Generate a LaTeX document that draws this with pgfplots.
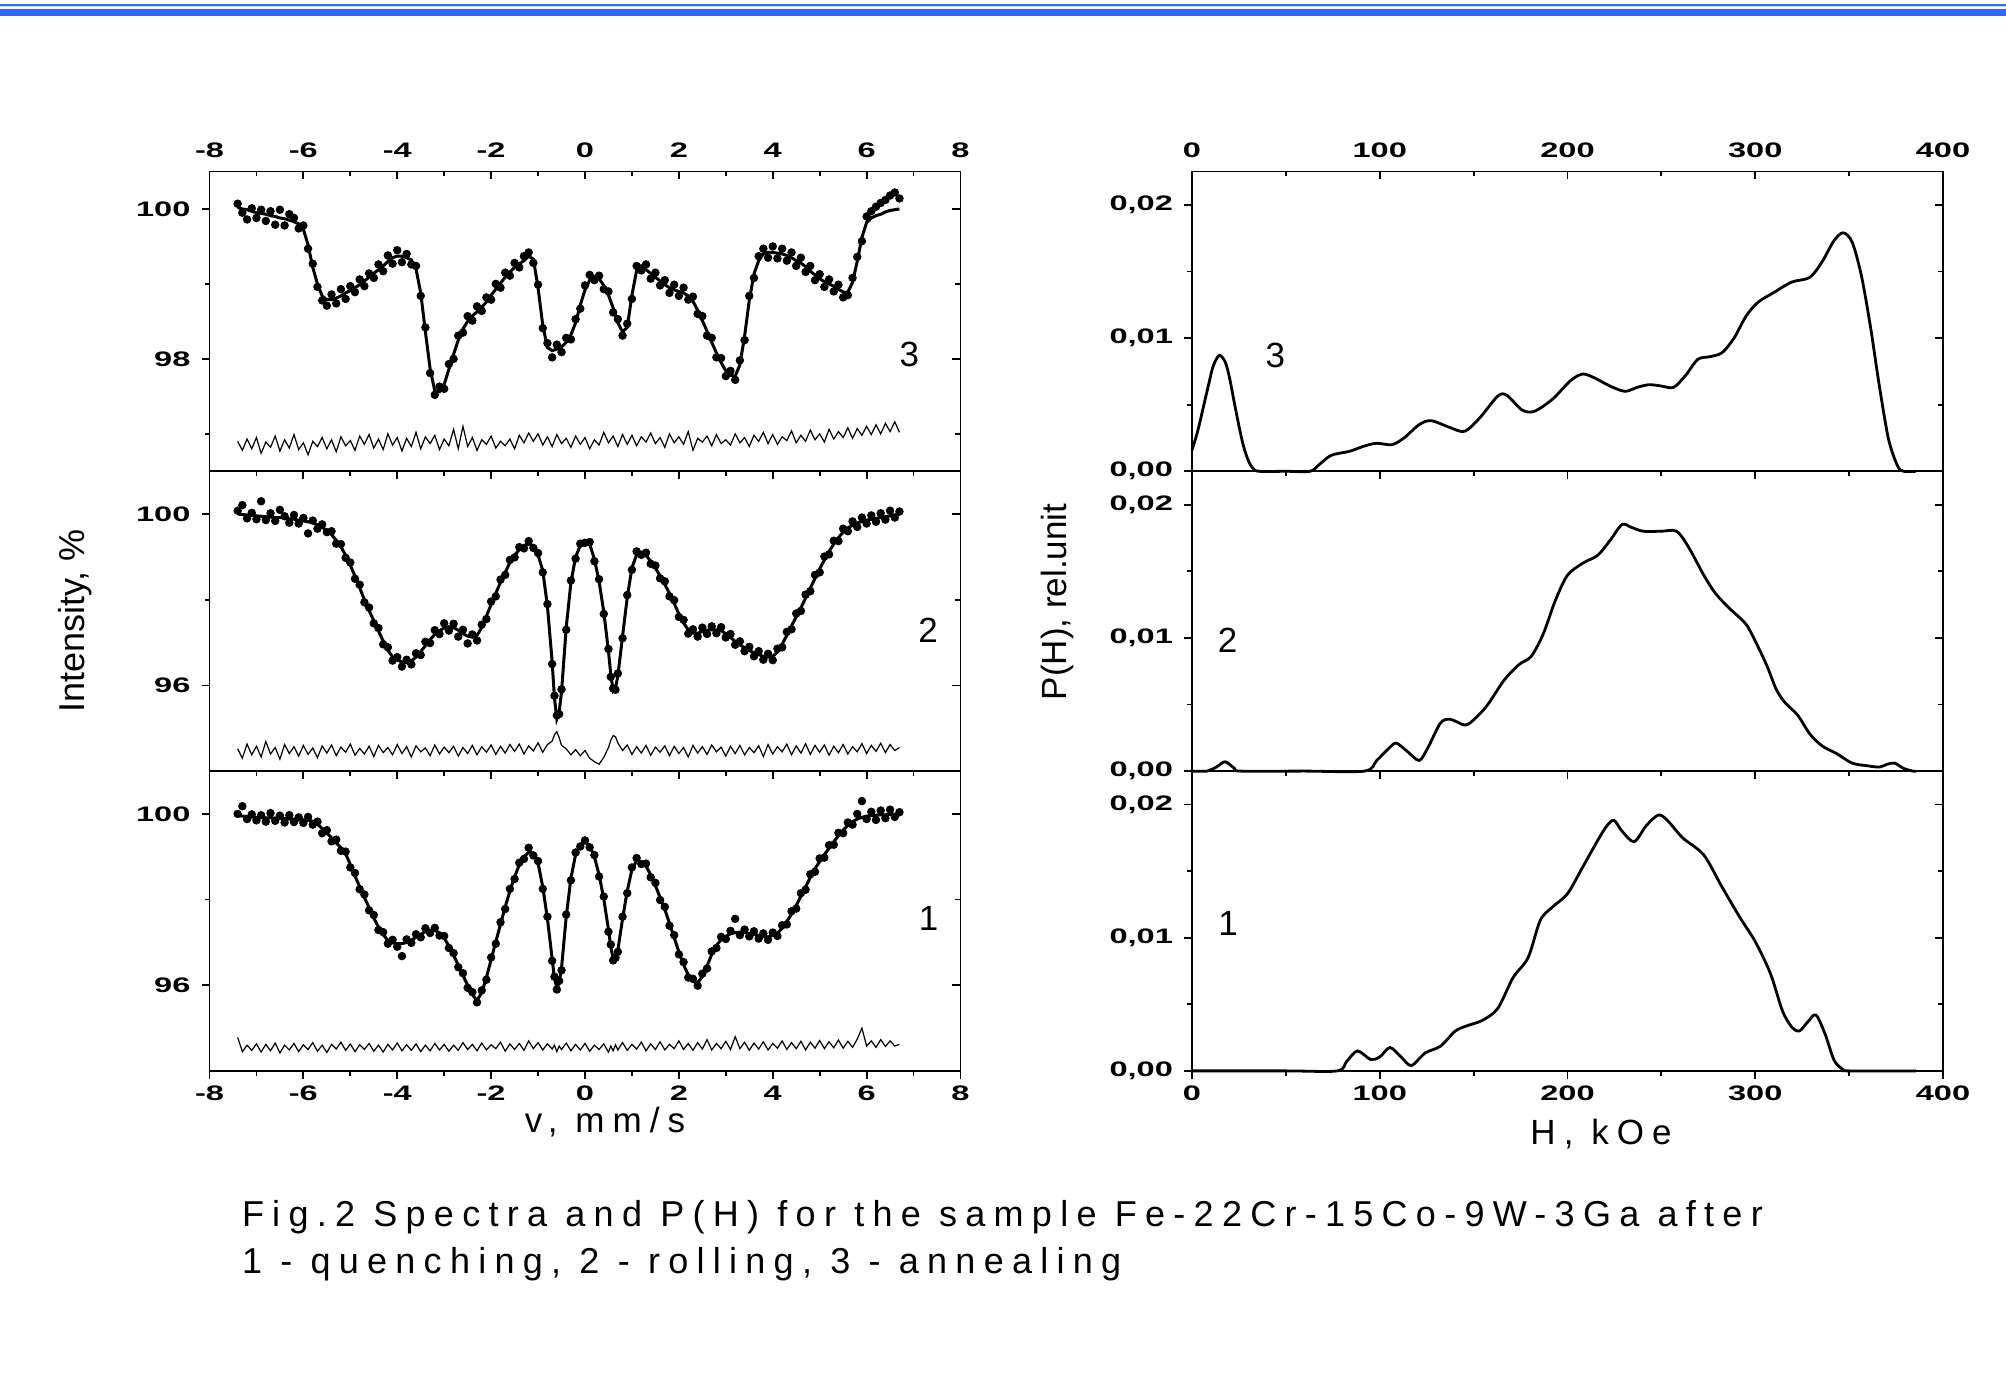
\documentclass[border=0pt]{standalone}
\usepackage{fontspec}
\setmainfont{Liberation Sans}
\newfontfamily\tickfont[FakeStretch=1.55]{Liberation Sans}
\newfontfamily\capfont[LetterSpace=23]{Liberation Sans}
\usepackage{pgfplots}
\usepackage{pgfplotstable}
\pgfplotsset{compat=1.18}
\definecolor{hdrblue}{RGB}{51,102,255}
\definecolor{hdrlight}{RGB}{200,215,255}

% panel 3 (annealing): x fit data residual
\pgfplotstableread{
x f d r
-7.4 100.02 100.07 96.90
-7.3 100.00 99.95 96.78
-7.2 99.99 99.86 96.93
-7.1 99.97 100.01 96.80
-7.0 99.95 99.88 96.95
-6.9 99.94 99.99 96.74
-6.8 99.93 99.84 96.89
-6.7 99.91 99.97 96.82
-6.6 99.90 99.79 96.97
-6.5 99.88 99.99 96.77
-6.4 99.87 99.78 96.92
-6.3 99.85 99.93 96.81
-6.2 99.83 99.88 96.99
-6.1 99.80 99.74 96.79
-6.0 99.73 99.78 96.88
-5.9 99.52 99.47 96.72
-5.8 99.22 99.27 96.90
-5.7 99.00 98.96 96.83
-5.6 98.84 98.78 96.95
-5.5 98.79 98.71 96.80
-5.4 98.79 98.86 96.92
-5.3 98.81 98.74 96.76
-5.2 98.84 98.93 96.96
-5.1 98.88 98.80 96.84
-5.0 98.91 98.97 96.91
-4.9 98.95 98.89 96.78
-4.8 98.99 99.06 96.97
-4.7 99.04 98.97 96.86
-4.6 99.09 99.14 96.99
-4.5 99.14 99.08 96.81
-4.4 99.19 99.26 96.93
-4.3 99.24 99.17 96.79
-4.2 99.30 99.38 97.00
-4.1 99.35 99.27 96.85
-4.0 99.37 99.45 96.95
-3.9 99.37 99.29 96.77
-3.8 99.35 99.40 96.94
-3.7 99.32 99.26 96.83
-3.6 99.20 99.24 97.02
-3.5 98.88 98.84 96.80
-3.4 98.36 98.42 96.96
-3.3 97.87 97.81 96.87
-3.2 97.57 97.52 96.98
-3.1 97.56 97.63 96.79
-3.0 97.66 97.60 96.93
-2.9 97.86 97.93 96.84
-2.8 98.06 98.00 97.06
-2.7 98.25 98.31 96.80
-2.6 98.40 98.35 97.10
-2.5 98.50 98.57 96.83
-2.4 98.57 98.51 96.95
-2.3 98.63 98.70 96.78
-2.2 98.69 98.64 96.92
-2.1 98.76 98.82 96.86
-2.0 98.85 98.79 96.97
-1.9 98.93 99.00 96.81
-1.8 99.01 98.95 96.90
-1.7 99.09 99.15 96.84
-1.6 99.16 99.11 96.93
-1.5 99.22 99.28 96.80
-1.4 99.27 99.22 96.98
-1.3 99.31 99.37 96.88
-1.2 99.37 99.42 97.01
-1.1 99.33 99.28 96.90
-1.0 98.95 98.99 97.00
-0.9 98.45 98.41 96.85
-0.8 98.15 98.21 96.96
-0.7 98.11 98.02 96.83
-0.6 98.13 98.19 96.99
-0.5 98.16 98.09 96.87
-0.4 98.22 98.28 96.94
-0.3 98.32 98.26 96.82
-0.2 98.48 98.53 96.97
-0.1 98.72 98.67 96.86
0.0 98.92 98.98 96.95
0.1 99.05 99.12 96.80
0.2 99.10 99.05 96.92
0.3 99.07 99.11 96.85
0.4 98.98 98.93 97.02
0.5 98.85 98.90 96.88
0.6 98.68 98.62 96.97
0.7 98.48 98.53 96.83
0.8 98.36 98.31 96.99
0.9 98.42 98.47 96.86
1.0 98.85 98.80 96.98
1.1 99.18 99.24 96.84
1.2 99.24 99.18 96.96
1.3 99.19 99.26 96.89
1.4 99.14 99.07 97.01
1.5 99.09 99.15 96.87
1.6 99.04 98.98 96.95
1.7 98.99 99.05 96.82
1.8 98.95 98.88 97.00
1.9 98.92 98.99 96.88
2.0 98.90 98.84 96.96
2.1 98.88 98.95 96.86
2.2 98.84 98.79 97.03
2.3 98.77 98.83 96.78
2.4 98.65 98.60 96.94
2.5 98.51 98.57 96.89
2.6 98.37 98.31 96.97
2.7 98.22 98.28 96.84
2.8 98.08 98.02 96.99
2.9 97.95 98.01 96.87
3.0 97.84 97.77 96.92
3.1 97.78 97.84 96.85
3.2 97.77 97.72 97.00
3.3 97.92 97.98 96.88
3.4 98.30 98.25 96.95
3.5 98.78 98.84 96.83
3.6 99.13 99.08 96.98
3.7 99.31 99.37 96.90
3.8 99.40 99.47 97.02
3.9 99.42 99.35 96.87
4.0 99.42 99.50 96.99
4.1 99.41 99.34 96.86
4.2 99.40 99.47 96.96
4.3 99.38 99.31 96.91
4.4 99.35 99.42 97.04
4.5 99.31 99.24 96.88
4.6 99.28 99.35 96.98
4.7 99.23 99.16 96.90
4.8 99.17 99.24 97.05
4.9 99.12 99.05 96.92
5.0 99.07 99.13 97.00
5.1 99.03 98.96 96.89
5.2 99.00 99.06 97.06
5.3 98.97 98.90 96.93
5.4 98.93 98.99 97.03
5.5 98.89 98.82 96.95
5.6 98.89 98.85 97.08
5.7 99.02 99.08 96.94
5.8 99.30 99.36 97.07
5.9 99.62 99.57 96.98
6.0 99.82 99.90 97.10
6.1 99.88 99.97 96.99
6.2 99.91 100.03 97.12
6.3 99.93 100.08 97.00
6.4 99.96 100.12 97.14
6.5 99.98 100.18 97.03
6.6 99.99 100.22 97.16
6.7 100.00 100.14 97.02
}\specC

% panel 2 (rolling)
\pgfplotstableread{
x f d r
-7.4 100.00 100.08 94.52
-7.3 99.99 100.21 94.30
-7.2 99.98 99.90 94.63
-7.1 99.97 100.03 94.38
-7.0 99.96 99.88 94.58
-6.9 99.95 100.30 94.33
-6.8 99.94 99.86 94.69
-6.7 99.93 100.02 94.40
-6.6 99.92 99.84 94.55
-6.5 99.92 100.10 94.28
-6.4 99.91 99.95 94.62
-6.3 99.89 99.80 94.41
-6.2 99.88 99.98 94.57
-6.1 99.86 99.78 94.35
-6.0 99.84 99.91 94.60
-5.9 99.82 99.55 94.39
-5.8 99.80 99.85 94.54
-5.7 99.75 99.66 94.31
-5.6 99.69 99.76 94.59
-5.5 99.62 99.58 94.42
-5.4 99.52 99.60 94.61
-5.3 99.39 99.31 94.36
-5.2 99.24 99.30 94.56
-5.1 99.04 98.98 94.44
-5.0 98.81 98.87 94.63
-4.9 98.55 98.49 94.37
-4.8 98.28 98.35 94.53
-4.7 98.00 97.94 94.40
-4.6 97.75 97.82 94.58
-4.5 97.51 97.45 94.34
-4.4 97.27 97.34 94.60
-4.3 97.04 96.96 94.43
-4.2 96.82 96.89 94.55
-4.1 96.67 96.58 94.38
-4.0 96.59 96.66 94.62
-3.9 96.55 96.44 94.41
-3.8 96.53 96.60 94.57
-3.7 96.57 96.49 94.33
-3.6 96.66 96.75 94.59
-3.5 96.79 96.71 94.45
-3.4 96.93 97.02 94.54
-3.3 97.07 96.99 94.36
-3.2 97.19 97.29 94.61
-3.1 97.28 97.20 94.40
-3.0 97.34 97.45 94.56
-2.9 97.37 97.28 94.43
-2.8 97.35 97.44 94.58
-2.7 97.29 97.14 94.35
-2.6 97.21 97.30 94.55
-2.5 97.15 96.98 94.41
-2.4 97.13 97.19 94.60
-2.3 97.17 97.05 94.38
-2.2 97.35 97.42 94.57
-2.1 97.62 97.55 94.44
-2.0 97.89 97.96 94.61
-1.9 98.15 98.08 94.39
-1.8 98.41 98.47 94.58
-1.7 98.64 98.58 94.42
-1.6 98.87 98.93 94.62
-1.5 99.04 98.99 94.46
-1.4 99.17 99.23 94.63
-1.3 99.27 99.20 94.40
-1.2 99.30 99.37 94.59
-1.1 99.26 99.21 94.47
-1.0 99.05 99.09 94.66
-0.9 98.68 98.64 94.44
-0.8 97.85 97.90 94.62
-0.7 96.55 96.50 94.70
-0.65 95.70 95.76 94.85
-0.6 95.22 95.30 94.92
-0.55 95.38 95.33 94.78
-0.5 95.85 95.91 94.60
-0.4 97.35 97.30 94.52
-0.3 98.40 98.45 94.38
-0.2 99.00 98.96 94.50
-0.1 99.27 99.31 94.36
0.0 99.37 99.33 94.48
0.1 99.30 99.35 94.30
0.2 98.95 98.90 94.22
0.3 98.43 98.48 94.16
0.4 97.72 97.67 94.32
0.5 96.80 96.85 94.55
0.55 96.25 96.20 94.72
0.6 95.88 95.93 94.83
0.65 95.95 95.90 94.80
0.7 96.22 96.28 94.66
0.8 97.15 97.10 94.48
0.9 98.05 98.11 94.61
1.0 98.75 98.70 94.39
1.1 99.05 99.13 94.57
1.2 99.11 99.05 94.42
1.3 99.04 99.10 94.60
1.4 98.90 98.84 94.37
1.5 98.74 98.80 94.56
1.6 98.56 98.50 94.44
1.7 98.36 98.43 94.59
1.8 98.15 98.08 94.36
1.9 97.92 97.99 94.58
2.0 97.67 97.60 94.41
2.1 97.46 97.53 94.55
2.2 97.30 97.21 94.33
2.3 97.22 97.31 94.60
2.4 97.22 97.14 94.42
2.5 97.26 97.35 94.57
2.6 97.29 97.20 94.39
2.7 97.30 97.38 94.61
2.8 97.30 97.22 94.45
2.9 97.28 97.36 94.56
3.0 97.21 97.12 94.35
3.1 97.12 97.20 94.58
3.2 97.03 96.95 94.41
3.3 96.95 97.03 94.60
3.4 96.88 96.80 94.38
3.5 96.82 96.90 94.55
3.6 96.76 96.68 94.43
3.7 96.72 96.80 94.59
3.8 96.68 96.60 94.34
3.9 96.66 96.74 94.62
4.0 96.68 96.59 94.40
4.1 96.78 96.86 94.57
4.2 96.96 96.89 94.45
4.3 97.17 97.25 94.63
4.4 97.39 97.31 94.38
4.5 97.60 97.68 94.59
4.6 97.81 97.74 94.42
4.7 98.04 98.12 94.64
4.8 98.27 98.20 94.39
4.9 98.50 98.58 94.60
5.0 98.72 98.64 94.44
5.1 98.93 99.01 94.61
5.2 99.13 99.06 94.37
5.3 99.30 99.38 94.58
5.4 99.45 99.37 94.43
5.5 99.58 99.66 94.62
5.6 99.68 99.60 94.40
5.7 99.74 99.83 94.57
5.8 99.79 99.70 94.45
5.9 99.83 99.92 94.64
6.0 99.86 99.78 94.41
6.1 99.88 99.97 94.60
6.2 99.90 99.82 94.46
6.3 99.92 100.02 94.65
6.4 99.94 99.87 94.43
6.5 99.96 100.08 94.62
6.6 99.98 99.92 94.48
6.7 100.00 100.06 94.55
}\specB

% panel 1 (quenching)
\pgfplotstableread{
x f d r
-7.4 99.96 100.00 94.78
-7.3 99.95 100.18 94.45
-7.2 99.94 99.88 94.60
-7.1 99.93 99.99 94.48
-7.0 99.92 99.85 94.63
-6.9 99.92 99.97 94.44
-6.8 99.91 99.82 94.62
-6.7 99.91 100.02 94.47
-6.6 99.90 99.84 94.65
-6.5 99.90 99.96 94.42
-6.4 99.89 99.80 94.60
-6.3 99.88 99.97 94.49
-6.2 99.88 99.81 94.64
-6.1 99.87 99.92 94.45
-6.0 99.86 99.79 94.61
-5.9 99.85 99.93 94.50
-5.8 99.83 99.75 94.66
-5.7 99.76 99.82 94.46
-5.6 99.66 99.55 94.60
-5.5 99.55 99.62 94.43
-5.4 99.44 99.36 94.62
-5.3 99.32 99.40 94.51
-5.2 99.21 99.14 94.67
-5.1 99.07 99.12 94.48
-5.0 98.82 98.75 94.63
-4.9 98.55 98.62 94.45
-4.8 98.30 98.24 94.61
-4.7 98.05 98.12 94.50
-4.6 97.81 97.75 94.64
-4.5 97.57 97.64 94.46
-4.4 97.36 97.29 94.60
-4.3 97.18 97.24 94.44
-4.2 97.05 96.97 94.62
-4.1 96.99 97.06 94.49
-4.0 96.97 96.90 94.65
-3.9 96.97 96.68 94.47
-3.8 97.00 97.07 94.61
-3.7 97.05 96.99 94.48
-3.6 97.12 97.19 94.63
-3.5 97.19 97.12 94.45
-3.4 97.25 97.33 94.60
-3.3 97.28 97.22 94.47
-3.2 97.28 97.34 94.64
-3.1 97.22 97.16 94.49
-3.0 97.10 97.15 94.62
-2.9 96.92 96.87 94.46
-2.8 96.70 96.75 94.60
-2.7 96.47 96.42 94.48
-2.6 96.23 96.28 94.66
-2.5 96.00 95.94 94.50
-2.4 95.78 95.84 94.62
-2.3 95.65 95.60 94.47
-2.2 95.82 95.88 94.65
-2.1 96.18 96.13 94.49
-2.0 96.60 96.65 94.61
-1.9 97.02 96.97 94.52
-1.8 97.42 97.47 94.67
-1.7 97.83 97.78 94.46
-1.6 98.20 98.25 94.63
-1.5 98.53 98.48 94.50
-1.4 98.81 98.86 94.64
-1.3 99.00 98.95 94.48
-1.2 99.10 99.21 94.70
-1.1 99.09 99.03 94.52
-1.0 98.85 98.90 94.66
-0.9 98.30 98.25 94.49
-0.8 97.55 97.60 94.63
-0.7 96.62 96.57 94.51
-0.65 96.15 96.20 94.60
-0.6 95.95 95.90 94.45
-0.55 96.05 96.10 94.58
-0.5 96.40 96.35 94.50
-0.4 97.60 97.65 94.65
-0.3 98.50 98.45 94.47
-0.2 99.05 99.10 94.62
-0.1 99.28 99.24 94.49
0.0 99.34 99.38 94.64
0.1 99.26 99.22 94.46
0.2 99.00 99.04 94.60
0.3 98.58 98.54 94.50
0.4 98.02 98.07 94.63
0.5 97.30 97.25 94.44
0.55 96.90 96.95 94.58
0.6 96.62 96.58 94.47
0.65 96.60 96.64 94.61
0.7 96.82 96.78 94.49
0.8 97.55 97.60 94.66
0.9 98.20 98.15 94.48
1.0 98.70 98.75 94.62
1.1 98.91 98.97 94.51
1.2 98.88 98.83 94.67
1.3 98.78 98.84 94.47
1.4 98.58 98.52 94.63
1.5 98.33 98.39 94.50
1.6 98.05 97.99 94.68
1.7 97.77 97.83 94.49
1.8 97.45 97.39 94.62
1.9 97.11 97.17 94.52
2.0 96.78 96.72 94.70
2.1 96.48 96.54 94.50
2.2 96.24 96.18 94.64
2.3 96.09 96.15 94.48
2.4 96.06 95.99 94.66
2.5 96.20 96.27 94.51
2.6 96.45 96.39 94.73
2.7 96.72 96.79 94.49
2.8 96.93 96.87 94.64
2.9 97.06 97.13 94.52
3.0 97.14 97.08 94.69
3.1 97.20 97.27 94.50
3.2 97.23 97.55 94.80
3.3 97.24 97.17 94.52
3.4 97.23 97.30 94.67
3.5 97.21 97.14 94.48
3.6 97.19 97.26 94.65
3.7 97.16 97.09 94.51
3.8 97.14 97.21 94.68
3.9 97.13 97.06 94.49
4.0 97.16 97.23 94.64
4.1 97.22 97.15 94.53
4.2 97.33 97.40 94.70
4.3 97.49 97.42 94.50
4.4 97.66 97.73 94.66
4.5 97.86 97.79 94.52
4.6 98.08 98.15 94.69
4.7 98.30 98.23 94.49
4.8 98.52 98.59 94.67
4.9 98.72 98.65 94.53
5.0 98.89 98.96 94.71
5.1 99.05 98.98 94.52
5.2 99.20 99.27 94.68
5.3 99.35 99.28 94.54
5.4 99.49 99.56 94.72
5.5 99.62 99.55 94.53
5.6 99.73 99.80 94.69
5.7 99.82 99.75 94.55
5.8 99.88 100.00 94.74
5.9 99.92 100.30 95.00
6.0 99.95 99.88 94.58
6.1 99.96 100.05 94.70
6.2 99.97 99.86 94.55
6.3 99.98 100.08 94.73
6.4 99.98 99.90 94.57
6.5 99.99 100.10 94.70
6.6 99.99 99.93 94.58
6.7 100.00 100.04 94.62
}\specA

\pgfplotsset{
  panel/.style={scale only axis, width=375.5pt, height=149.9pt,
    anchor=south west,
    axis line style={line width=0.9pt},
    every tick/.style={line width=0.9pt, black},
    major tick length=4pt, minor tick length=2.5pt,
    tick label style={font=\tickfont\bfseries\fontsize{10.5}{12}\selectfont},
    /pgf/number format/assume math mode=true,
    scaled x ticks=false, scaled y ticks=false},
  lowerax/.style={panel, xtick pos=left, ytick pos=left, tick align=outside,
    xticklabels={}, yticklabel shift=2pt},
  upperax/.style={panel, xtick pos=right, ytick pos=right, tick align=inside,
    xticklabel pos=right, xticklabels={}, yticklabels={}, xticklabel shift=3.3pt},
  leftx/.style={xmin=-8, xmax=8, xtick={-8,-6,-4,-2,0,2,4,6,8},
    minor xtick={-7,-5,-3,-1,1,3,5,7}},
  top3/.style={ymin=96.5, ymax=100.5, ytick={98,100}, minor ytick={97,99},
    yticklabels={98,100}},
  low12/.style={ymin=94, ymax=101, ytick={96,100}, minor ytick={98},
    yticklabels={96,100}},
  rightx/.style={xmin=0, xmax=400, xtick={0,100,200,300,400},
    minor xtick={50,150,250,350}, ymin=0, ymax=0.0225,
    ytick={0,0.01,0.02}, minor ytick={0.005,0.015},
    yticklabels={{0,00},{0,01},{0,02}}, clip=false},
  fitline/.style={black, line width=1.5pt},
  dots/.style={only marks, mark=*, mark size=1.9pt, black},
  resid/.style={black, line width=0.6pt},
  phline/.style={black, line width=1.4pt, smooth, tension=0.5},
}
\tikzset{numlab/.style={font=\fontsize{17.5}{20}\selectfont}}

\begin{document}
\begin{tikzpicture}
\path[use as bounding box] (0,0) rectangle (1003pt,688pt);
% header bars
\fill[hdrblue] (0,685.15pt) rectangle (1003pt,686pt);
\fill[hdrlight] (0,684.35pt) rectangle (1003pt,685pt);
\fill[hdrblue] (0,680pt) rectangle (1003pt,683.5pt);

% ---------- left column ----------
% panel 3
\begin{axis}[leftx, top3, lowerax, at={(104.75pt,452.35pt)}]
\addplot[dots] table[x=x,y=d] {\specC};
\addplot[fitline] table[x=x,y=f] {\specC};
\addplot[resid] table[x=x,y=r] {\specC};
\node[numlab] at (axis cs:6.91,98.06) {3};
\end{axis}
\begin{axis}[leftx, top3, upperax, at={(104.75pt,452.35pt)},
  xticklabels={-8,-6,-4,-2,0,2,4,6,8}]
\end{axis}
% panel 2
\begin{axis}[leftx, low12, lowerax, at={(104.75pt,302.45pt)}]
\addplot[dots] table[x=x,y=d] {\specB};
\addplot[fitline] table[x=x,y=f] {\specB};
\addplot[resid] table[x=x,y=r] {\specB};
\node[numlab] at (axis cs:7.31,97.29) {2};
\end{axis}
\begin{axis}[leftx, low12, upperax, at={(104.75pt,302.45pt)}]
\end{axis}
% panel 1
\begin{axis}[leftx, low12, lowerax, at={(104.75pt,152.55pt)},
  xticklabels={-8,-6,-4,-2,0,2,4,6,8}]
\addplot[dots] table[x=x,y=d] {\specA};
\addplot[fitline] table[x=x,y=f] {\specA};
\addplot[resid] table[x=x,y=r] {\specA};
\node[numlab] at (axis cs:7.32,97.55) {1};
\end{axis}
\begin{axis}[leftx, low12, upperax, at={(104.75pt,152.55pt)}]
\end{axis}

% ---------- right column ----------
% panel 3
\begin{axis}[rightx, lowerax, at={(596pt,452.35pt)}]
\addplot[phline] coordinates {
(0,0.0016) (3,0.0030) (6.5,0.0051) (9,0.0066) (11.3,0.0079) (14.5,0.0087)
(17.7,0.0082) (20,0.0070) (22.6,0.0051) (25,0.0034) (27.4,0.0019) (30,0.0008)
(32.3,0.00025) (35.5,0) (50,0) (62.9,0) (67.7,0.0005) (74.2,0.0012)
(83.9,0.0015) (91.9,0.0019) (98.4,0.0021) (106.5,0.0020) (112.9,0.0025)
(121,0.0035) (127.4,0.0038) (137.1,0.0033) (145.2,0.0030) (153.2,0.0040)
(162.9,0.00565) (167.7,0.0057) (175.8,0.0046) (182.3,0.0045) (191.9,0.0054)
(201.6,0.0068) (208.1,0.0073) (214.5,0.0070) (222.6,0.0064) (230.6,0.0060)
(237.1,0.0063) (243.5,0.0065) (250,0.0064) (256.5,0.0063) (262.9,0.0072)
(269.4,0.0084) (275.8,0.0086) (282.3,0.0089) (288.7,0.0100) (295.2,0.01167)
(301.6,0.0127) (309.7,0.0134) (319.4,0.0142) (329,0.01455) (335.5,0.0157)
(341.9,0.0173) (346.8,0.0179) (351.6,0.0172) (356.5,0.0147) (361.3,0.0109)
(366.1,0.0064) (371,0.0024) (375.8,0.0004) (379,0) (385.5,0)};
\node[numlab] at (axis cs:44.4,0.0087) {3};
\end{axis}
\begin{axis}[rightx, upperax, at={(596pt,452.35pt)},
  xticklabels={0,100,200,300,400}]
\end{axis}
% panel 2
\begin{axis}[rightx, lowerax, at={(596pt,302.45pt)}]
\addplot[phline] coordinates {
(0,0) (8,0) (12.9,0.0003) (17.7,0.0007) (22.6,0.0002) (25.8,0) (60,0)
(91.9,0) (98.4,0.0008) (104.8,0.0017) (108.7,0.0021) (114.5,0.0015)
(121,0.0008) (125.8,0.0018) (132.3,0.0036) (137.1,0.0039) (141,0.0037)
(146.8,0.0035) (156.5,0.0048) (166.1,0.0068) (174.2,0.0080) (180.6,0.0086)
(187.1,0.0103) (193.5,0.0128) (200,0.0147) (208.1,0.0156) (216.1,0.0162)
(222.6,0.0173) (229,0.0185) (233.9,0.0183) (240.3,0.0180) (250,0.0180)
(258.1,0.0180) (264.5,0.0168) (272.6,0.0147) (279,0.0133) (287.1,0.0121)
(295.2,0.0110) (301.6,0.0093) (306.5,0.0078) (311.3,0.0061) (316.1,0.0051)
(322.6,0.0042) (329,0.0028) (335.5,0.0019) (343.5,0.0013) (351.6,0.0006)
(359.7,0.0004) (366.1,0.0003) (370,0.0005) (374.2,0.0006) (379,0.0002)
(383.9,0) (385.5,0)};
\node[numlab] at (axis cs:19,0.0098) {2};
\end{axis}
\begin{axis}[rightx, upperax, at={(596pt,302.45pt)}]
\end{axis}
% panel 1
\begin{axis}[rightx, lowerax, at={(596pt,152.55pt)},
  xticklabels={0,100,200,300,400}]
\addplot[phline] coordinates {
(0,0) (50,0) (77.4,0) (82.3,0.0007) (88.1,0.0015) (95.2,0.00085)
(100,0.00105) (105.5,0.00175) (111.3,0.00105) (116.8,0.0004) (124.2,0.00135)
(132.3,0.00185) (140.3,0.0030) (146.8,0.0034) (154.8,0.0038) (162.9,0.0047)
(171,0.0070) (179,0.0085) (185.5,0.0113) (192,0.0123) (200,0.0133)
(208.1,0.0153) (216.1,0.0173) (221,0.0184) (224.8,0.0188) (229,0.0180)
(235.5,0.0172) (241.9,0.0184) (248.4,0.0192) (253.2,0.0188) (261.3,0.0175)
(272.6,0.0162) (282.3,0.0138) (291.9,0.0115) (300,0.0097) (308.1,0.0073)
(314.5,0.0045) (319.4,0.0033) (323.5,0.0030) (328.1,0.0037) (332.3,0.0042)
(337.1,0.0028) (342,0.0008) (346.8,0.0001) (350,0) (385.5,0)};
\node[numlab] at (axis cs:19.2,0.0111) {1};
\end{axis}
\begin{axis}[rightx, upperax, at={(596pt,152.55pt)}]
\end{axis}

% axis titles
\node[rotate=90, font=\fontsize{18}{20}\selectfont] at (37.5pt,377.5pt) {Intensity, \%};
\node[rotate=90, font=\fontsize{17.5}{20}\selectfont] at (528.5pt,387pt) {P(H), rel.unit};
\node[anchor=base, inner sep=0pt, font=\capfont\fontsize{17.5}{20}\selectfont] at (302.5pt,122pt) {v, mm/s};
\node[anchor=base, inner sep=0pt, font=\capfont\fontsize{17.5}{20}\selectfont] at (800.5pt,115.75pt) {H, kOe};

% caption
\node[anchor=base west, inner sep=0pt, font=\capfont\fontsize{18}{20}\selectfont] at (120.8pt,74.65pt) {Fig.2 Spectra and P(H) for the sample Fe-22Cr-15Co-9W-3Ga after};
\node[anchor=base west, inner sep=0pt, font=\capfont\fontsize{18}{20}\selectfont] at (120.8pt,51.35pt) {1 - quenching, 2 - rolling, 3 - annealing};
\end{tikzpicture}
\end{document}
